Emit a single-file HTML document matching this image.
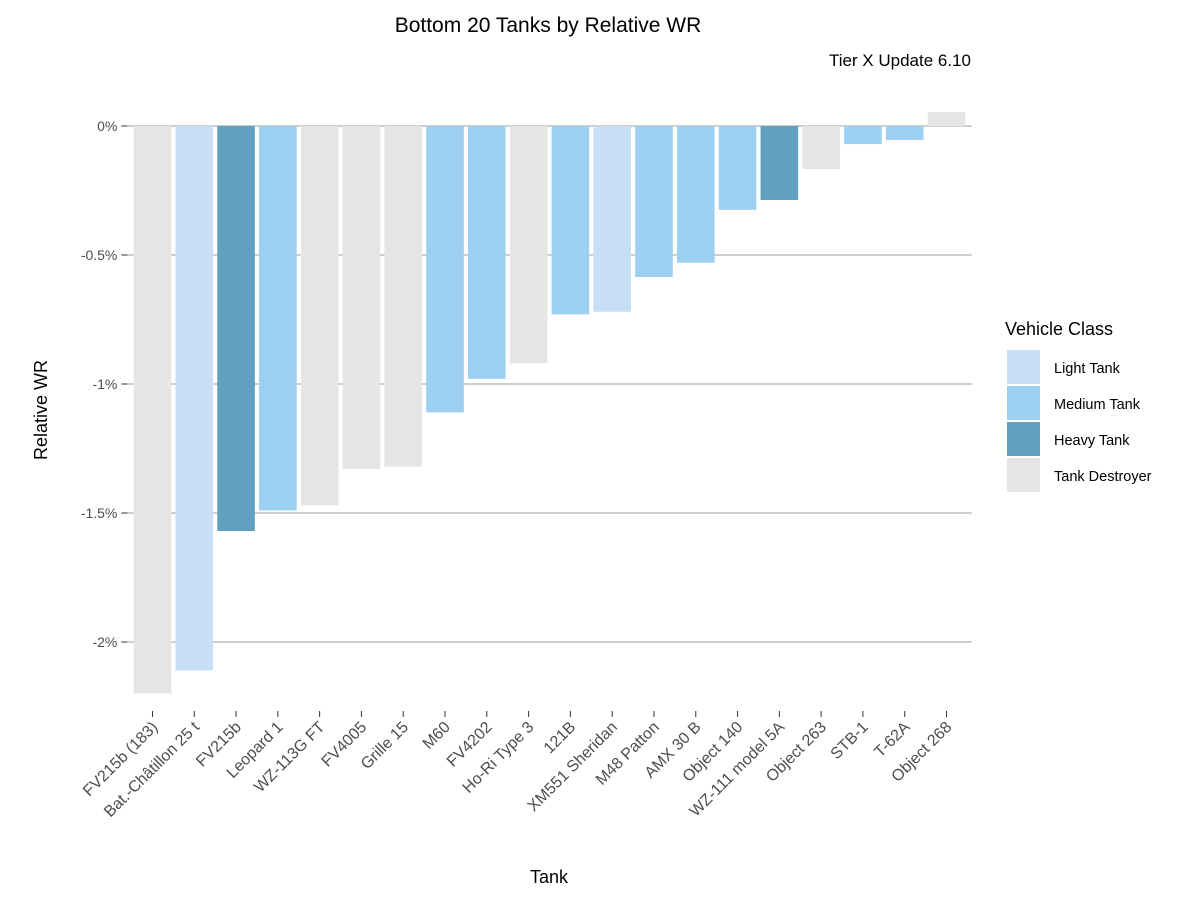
<!DOCTYPE html>
<html><head><meta charset="utf-8"><style>
body{margin:0;background:#fff;font-family:"Liberation Sans",Arial,sans-serif}
</style></head><body>
<svg id="chart" width="1200" height="900" xmlns="http://www.w3.org/2000/svg" style="font-family:'Liberation Sans',Arial,sans-serif">
<rect width="1200" height="900" fill="#fff"/>
<text x="548" y="32" font-size="21" text-anchor="middle" fill="#000">Bottom 20 Tanks by Relative WR</text>
<text x="971" y="66" font-size="17" text-anchor="end" fill="#000">Tier X Update 6.10</text>
<g id="grid"></g><g id="bars"></g><g id="xaxis"></g><g id="yaxis"></g>
<text transform="translate(47,410) rotate(-90)" font-size="18" text-anchor="middle">Relative WR</text>
<text x="549" y="883" font-size="18" text-anchor="middle">Tank</text>
<g id="legend">
<text x="1005" y="335" font-size="18">Vehicle Class</text>
</g>
</svg>
<script>
const categories=["FV215b (183)","Bat.-Châtillon 25 t","FV215b","Leopard 1","WZ-113G FT","FV4005","Grille 15","M60","FV4202","Ho-Ri Type 3","121B","XM551 Sheridan","M48 Patton","AMX 30 B","Object 140","WZ-111 model 5A","Object 263","STB-1","T-62A","Object 268"];
const values=[-2.20,-2.11,-1.57,-1.49,-1.47,-1.33,-1.32,-1.11,-0.98,-0.92,-0.73,-0.72,-0.585,-0.53,-0.325,-0.287,-0.167,-0.07,-0.054,0.054];
const classes=["TD","Light","Heavy","Medium","TD","TD","TD","Medium","Medium","TD","Medium","Light","Medium","Medium","Medium","Heavy","TD","Medium","Medium","TD"];
const classNames=["Light","Medium","Heavy","TD"];
const classLabels=["Light Tank","Medium Tank","Heavy Tank","Tank Destroyer"];
const yTicks=[0,-0.5,-1,-1.5,-2];
const yTickLabels=["0%","-0.5%","-1%","-1.5%","-2%"];
const colors={Light:"#c6dff4",Medium:"#9dd0f0",Heavy:"#639fbf",TD:"#e5e5e5"};
const NS="http://www.w3.org/2000/svg";
const L=127.4,R=971.6,step=(R-L)/(categories.length-1+1.2);
const xC=i=>L+(0.6+i)*step;
const y=v=>126-v*258;
function mk(t,a,p){const e=document.createElementNS(NS,t);for(const k in a)e.setAttribute(k,a[k]);p.appendChild(e);return e;}
const grid=document.getElementById('grid'),bars=document.getElementById('bars'),xa=document.getElementById('xaxis'),ya=document.getElementById('yaxis');
yTicks.forEach((t,i)=>{
 const g=mk('line',{x1:L,x2:R,y1:y(t),y2:y(t),stroke:'#bebebe','stroke-width':1.5},grid);
 
 
 const tk=mk('line',{x1:L-6,x2:L,y1:y(t),y2:y(t),stroke:'#333','stroke-width':1},ya);
 
 
 const tx=mk('text',{x:L-10,y:y(t)+5,'font-size':14,'text-anchor':'end',fill:'#4d4d4d'},ya);
 tx.textContent=yTickLabels[i];
 
 
});
const bw=step*0.9;
categories.forEach((c,i)=>{
 const v=values[i],y0=y(0),y1=y(v);
 const r=mk('rect',{x:xC(i)-bw/2,y:Math.min(y0,y1),width:bw,height:Math.abs(y1-y0),fill:colors[classes[i]]},bars);
 
 
 const tk=mk('line',{x1:xC(i),x2:xC(i),y1:711,y2:717,stroke:'#333','stroke-width':1},xa);
 
 
 const tx=mk('text',{x:0,y:0,'font-size':16,'text-anchor':'end',fill:'#4d4d4d',transform:`translate(${xC(i)+6},${728}) rotate(-45)`},xa);
 tx.textContent=c;
 
 
});
const lg=document.getElementById('legend');
classNames.forEach((k,i)=>{
 const yy=350+i*36;
 const r=mk('rect',{x:1007,y:yy,width:33,height:34,fill:colors[k]},lg);
 
 
 const t=mk('text',{x:1054,y:yy+23,'font-size':14.5,fill:'#000'},lg);
 t.textContent=classLabels[i];
 
 
});
</script>
</body></html>
